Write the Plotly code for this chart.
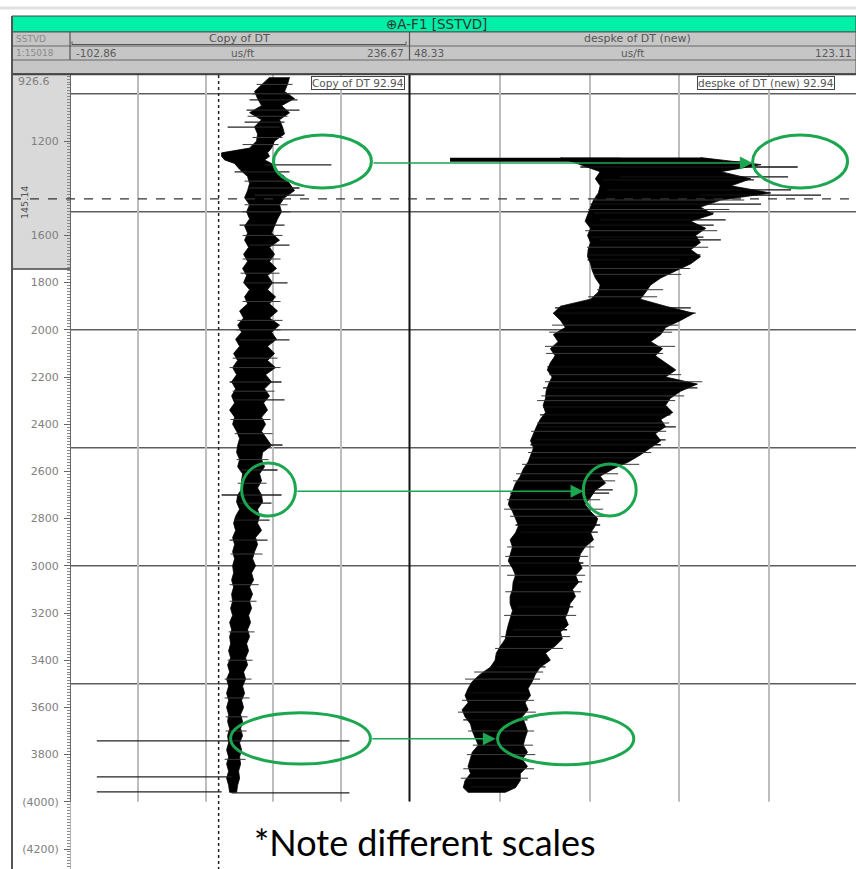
import plotly.graph_objects as go

W, H = 856, 869

# ---------------- data ----------------
DEPTH_TOP = 920.2
DEPTH_BOTTOM = 4284.7
DEPTH_TICKS = [1200, 1600, 1800, 2000, 2200, 2400, 2600, 2800, 3000, 3200, 3400, 3600, 3800, 4000, 4200]
DEPTH_TICK_TEXT = ["1200", "1600", "1800", "2000", "2200", "2400", "2600", "2800", "3000", "3200",
                   "3400", "3600", "3800", "(4000)", "(4200)"]
GRID_DEPTHS = [1000, 1500, 2000, 2500, 3000, 3500]
TRACK_END_DEPTH = 4000
CURRENT_DEPTH = 1445.14
ZONE_BOTTOM = 1742

LEFT_MIN, LEFT_MAX = -102.86, 236.67
RIGHT_MIN, RIGHT_MAX = 48.33, 123.11
LEFT_CUTOFF = 46.0

# Copy of DT (left track) envelope
L_DEPTH = [930, 960, 990, 1020, 1050, 1080, 1110, 1140, 1170, 1200, 1230, 1250, 1265, 1280, 1295,
           1320, 1350, 1380, 1410, 1440, 1470, 1500, 1530, 1560, 1590, 1620, 1650, 1680, 1710, 1740,
           1770, 1800, 1830, 1860, 1890, 1920, 1950, 1980, 2010, 2040, 2070, 2100, 2130, 2160, 2190,
           2220, 2250, 2280, 2310, 2340, 2370, 2400, 2430, 2460, 2490, 2520, 2550, 2580, 2610, 2640,
           2670, 2700, 2730, 2760, 2790, 2820, 2850, 2880, 2910, 2940, 2970, 3000, 3030, 3060, 3090,
           3120, 3150, 3180, 3210, 3240, 3270, 3300, 3330, 3360, 3390, 3420, 3450, 3480, 3510, 3540,
           3570, 3600, 3630, 3660, 3690, 3720, 3750, 3780, 3810, 3840, 3870, 3900, 3930, 3960]
L_LO = [97, 89, 82, 85, 89, 77, 89, 82, 85, 84, 77, 49, 49, 52, 62,
        67, 75, 77, 75, 72, 77, 74, 77, 72, 75, 72, 76, 71, 75, 70,
        74, 71, 77, 72, 75, 67, 71, 65, 69, 63, 67, 61, 65, 60, 64,
        59, 63, 59, 62, 57, 62, 60, 64, 67, 65, 64, 67, 65, 70, 69,
        70, 65, 64, 67, 63, 61, 63, 60, 62, 60, 62, 60, 61, 59, 61,
        59, 60, 58, 60, 57, 59, 57, 58, 56, 58, 55, 57, 54, 56, 54,
        56, 54, 56, 55, 57, 55, 56, 54, 56, 54, 56, 54, 56, 57]
L_HI = [117, 115, 112, 122, 109, 117, 107, 110, 112, 102, 99, 95, 97, 92, 99,
        102, 112, 117, 122, 112, 107, 109, 105, 102, 99, 107, 97, 102, 97, 104,
        95, 100, 95, 103, 97, 105, 97, 107, 99, 104, 95, 102, 95, 103, 93,
        99, 92, 97, 91, 95, 89, 93, 89, 94, 99, 90, 89, 92, 87, 89,
        85, 89, 90, 85, 87, 85, 89, 83, 85, 82, 80, 83, 79, 81, 77,
        80, 77, 79, 76, 78, 75, 77, 74, 76, 73, 75, 71, 73, 70, 72,
        69, 71, 68, 70, 68, 70, 67, 69, 67, 68, 66, 67, 65, 64]
# strong spikes in the left curve
L_SPK_D = [1026, 1069, 1120, 1141, 1301, 1331, 1399, 1429, 1556, 1641, 1801, 2043, 2221, 2297,
           2488, 2594, 2700, 2734, 2806, 2891, 3742, 3894, 3958, 3962]
L_SPK_LO = [77, 74, 72, 55, 92, 62, 77, 82, 67, 77, 72, 67, 57, 62,
            67, 69, 49, 67, 62, 57, -76, -76, -76, 59]
L_SPK_HI = [125, 127, 112, 107, 159, 117, 127, 132, 112, 117, 115, 117, 109, 112,
            110, 105, 109, 99, 97, 95, 177, 59, 49, 177]
# fine hairs in the left curve
L_HAIR_D = [960, 1000, 1095, 1185, 1215, 1370, 1470, 1500, 1600, 1700, 1760, 1880, 1960, 2000, 2120,
            2160, 2260, 2380, 2440, 2550, 2650, 2950, 3080, 3150, 3280, 3400, 3480, 3560, 3640, 3700, 3820]
L_HAIR_LO = [84, 80, 75, 80, 70, 72, 72, 70, 70, 70, 68, 70, 65, 64, 60,
             57, 60, 58, 62, 64, 65, 58, 57, 57, 56, 55, 52, 52, 53, 53, 52]
L_HAIR_HI = [120, 118, 115, 110, 106, 120, 115, 118, 110, 108, 107, 108, 110, 108, 105,
             108, 102, 98, 100, 96, 94, 90, 86, 84, 82, 80, 79, 77, 75, 74, 73]

# despke of DT (new) (right track) envelope
R_DEPTH = [1270, 1300, 1330, 1360, 1390, 1420, 1450, 1480, 1510, 1540, 1570, 1600, 1630, 1660, 1690,
           1720, 1750, 1780, 1810, 1840, 1870, 1900, 1930, 1960, 1990, 2020, 2050, 2080, 2110, 2140,
           2170, 2200, 2230, 2260, 2290, 2320, 2350, 2380, 2410, 2440, 2470, 2500, 2530, 2560, 2590,
           2620, 2650, 2680, 2710, 2740, 2770, 2800, 2830, 2860, 2890, 2920, 2950, 2980, 3010, 3040,
           3070, 3100, 3130, 3160, 3190, 3220, 3250, 3280, 3310, 3340, 3370, 3400, 3430, 3460, 3490,
           3520, 3550, 3580, 3610, 3640, 3670, 3700, 3730, 3760, 3790, 3820, 3850, 3880, 3910, 3940, 3960]
R_LO = [73.4, 76.7, 80.0, 79.2, 80.0, 79.7, 78.9, 78.4, 78.0, 77.5, 78.4, 77.9, 78.4, 78.0, 77.9,
        78.4, 78.7, 79.2, 80.0, 79.7, 78.4, 73.4, 72.2, 73.4, 74.2, 72.2, 73.0, 71.7, 72.5, 71.7,
        71.2, 72.0, 71.4, 71.0, 70.9, 70.5, 70.9, 70.0, 69.4, 68.9, 68.4, 68.9, 68.4, 68.0, 67.2,
        66.7, 65.9, 65.4, 65.0, 64.7, 65.4, 65.9, 66.4, 65.9, 65.0, 65.4, 65.0, 64.7, 65.4, 65.9,
        65.5, 65.4, 65.0, 65.0, 65.4, 65.0, 64.7, 64.4, 64.2, 63.4, 62.7, 62.5, 61.7, 60.0, 58.7,
        58.0, 57.5, 58.0, 57.0, 57.5, 58.4, 58.7, 59.2, 59.7, 58.7, 58.4, 58.0, 58.4, 57.5, 57.2, 58.0]
R_HI = [96.7, 106.8, 100.1, 105.1, 101.8, 108.4, 100.1, 96.7, 98.8, 95.1, 97.6, 95.9, 96.7, 95.1, 96.7,
        95.1, 92.6, 90.1, 88.4, 87.6, 86.7, 90.9, 95.6, 93.4, 90.9, 90.1, 88.4, 90.4, 89.2, 90.9,
        92.6, 90.9, 96.2, 93.4, 91.7, 90.9, 92.1, 90.1, 90.9, 89.2, 90.1, 88.4, 86.7, 84.7, 82.1,
        80.0, 80.9, 79.2, 78.4, 77.5, 78.4, 79.6, 79.2, 78.4, 78.9, 77.5, 76.7, 76.4, 77.0, 75.9,
        76.4, 75.4, 75.9, 75.0, 74.7, 74.2, 74.7, 73.4, 73.7, 72.5, 70.9, 71.7, 70.0, 69.2, 68.7,
        68.0, 68.4, 67.5, 68.0, 67.0, 67.5, 67.9, 67.5, 67.2, 67.9, 67.0, 67.9, 66.7, 66.7, 65.9, 64.2]
R_BAR_D = [1279]
R_BAR_LO = [55.0]
R_BAR_HI = [83.4]
R_SPK_D = [1288, 1310, 1352, 1365, 1407, 1429, 1467, 1505, 1534, 1556, 1607, 1619, 1683, 1704,
           1907, 1929, 2157, 2246, 2327, 2360, 2411, 2466, 2487, 2542, 2678, 2692, 2827, 2857,
           2988, 3068, 3174, 3271, 3428, 3538, 3653, 3937]
R_SPK_LO = [80.0, 76.7, 83.4, 80.5, 81.2, 96.7, 78.4, 78.9, 80.0, 78.4, 78.4, 80.0, 77.9, 77.9,
            72.5, 72.2, 71.2, 70.5, 70.5, 70.0, 70.0, 69.2, 68.4, 68.4, 66.7, 65.0, 65.9, 66.7,
            65.0, 66.2, 66.2, 65.5, 62.8, 57.8, 57.2, 58.4]
R_SPK_HI = [104.3, 112.9, 111.3, 105.6, 111.8, 116.8, 106.8, 98.9, 100.9, 98.9, 97.2, 100.1, 96.7, 93.4,
            95.1, 95.9, 91.2, 96.2, 91.2, 91.7, 92.6, 90.9, 90.1, 85.6, 82.1, 81.5, 80.0, 79.6,
            77.2, 77.0, 75.5, 74.5, 70.9, 67.9, 67.9, 65.5]
R_HAIR_D = [1450, 1490, 1580, 1650, 1740, 1765, 1830, 1860, 1980, 2010, 2070, 2100, 2190, 2220, 2280,
            2300, 2395, 2430, 2520, 2570, 2610, 2640, 2720, 2760, 2790, 2920, 2960, 3040, 3110, 3210,
            3300, 3350, 3450, 3480, 3570, 3620, 3700, 3760, 3800, 3860, 3900]
R_HAIR_LO = [79.0, 78.0, 77.5, 77.8, 78.5, 79.0, 79.5, 78.0, 72.0, 71.5, 70.8, 71.0, 71.5, 70.8, 70.2,
             69.5, 69.5, 68.5, 68.0, 67.0, 66.0, 65.5, 64.5, 64.0, 65.0, 64.5, 64.2, 64.5, 64.2, 64.0,
             63.5, 62.5, 59.0, 57.5, 57.0, 56.3, 58.0, 58.8, 57.8, 57.2, 56.8]
R_HAIR_HI = [104.0, 101.5, 99.5, 98.0, 95.0, 93.5, 90.5, 89.5, 93.0, 92.0, 92.5, 90.5, 93.5, 97.0, 94.0,
             92.5, 91.5, 91.0, 88.5, 86.5, 83.0, 82.5, 80.0, 80.5, 81.0, 79.0, 78.0, 77.5, 76.8, 76.0,
             75.0, 73.8, 70.5, 70.0, 69.0, 69.3, 69.0, 68.8, 69.2, 69.0, 68.0]

# annotations: (x0, x1, depth0, depth1) in track units
ELLIPSES_LEFT = [(101, 199, 1174, 1399), (69, 123, 2564, 2789), (58, 198, 3623, 3840)]
ELLIPSES_RIGHT = [(105.4, 121.2, 1174, 1399), (77.2, 86.0, 2569, 2789), (62.9, 85.6, 3623, 3843)]
# arrows in right-track units: (tail, head, depth)
ARROWS = [(42.0, 105.4, 1293), (29.3, 77.2, 2684), (41.8, 62.6, 3733)]

# ---------------- helpers ----------------
def px(x):
    return x / W


def py(y):
    return 1 - y / H


def segments(depths, lo, hi):
    xs, ys = [], []
    for d, a, b in zip(depths, lo, hi):
        xs += [a, b, None]
        ys += [d, d, None]
    return xs, ys


fig = go.Figure()


def add_curve(depth, lo, hi, xaxis):
    fig.add_trace(go.Scatter(x=lo + hi[::-1], y=depth + depth[::-1], xaxis=xaxis, yaxis="y",
                             mode="lines", fill="toself", fillcolor="black",
                             line=dict(color="black", width=0.8), hoverinfo="skip", showlegend=False))


def add_lines(depth, lo, hi, xaxis, color, width):
    sx, sy = segments(depth, lo, hi)
    fig.add_trace(go.Scatter(x=sx, y=sy, xaxis=xaxis, yaxis="y", mode="lines",
                             line=dict(color=color, width=width), hoverinfo="skip", showlegend=False))


add_curve(L_DEPTH, L_LO, L_HI, "x2")
add_lines(L_HAIR_D, L_HAIR_LO, L_HAIR_HI, "x2", "#3a3a3a", 1.0)
add_lines(L_SPK_D, L_SPK_LO, L_SPK_HI, "x2", "#222", 1.3)

add_curve(R_DEPTH, R_LO, R_HI, "x3")
add_lines(R_HAIR_D, R_HAIR_LO, R_HAIR_HI, "x3", "#3a3a3a", 1.0)
add_lines(R_SPK_D, R_SPK_LO, R_SPK_HI, "x3", "#111", 1.3)
add_lines(R_BAR_D, R_BAR_LO, R_BAR_HI, "x3", "black", 4)

shapes = []
annotations = []

# depth track shaded zone
shapes.append(dict(type="rect", xref="paper", yref="y", x0=px(12), x1=px(70), y0=DEPTH_TOP, y1=ZONE_BOTTOM,
                   fillcolor="#d9d9d9", line=dict(width=0), layer="below"))
shapes.append(dict(type="line", xref="paper", yref="y", x0=px(12), x1=px(70), y0=ZONE_BOTTOM, y1=ZONE_BOTTOM,
                   line=dict(color="#444", width=1.5), layer="above"))

# horizontal grid in tracks
for d in GRID_DEPTHS:
    shapes.append(dict(type="line", xref="paper", yref="y", x0=px(70), x1=1, y0=d, y1=d,
                       line=dict(color="#5e5e5e", width=1.5), layer="below"))

# track separator
shapes.append(dict(type="line", xref="paper", yref="y", x0=px(409.5), x1=px(409.5),
                   y0=DEPTH_TOP, y1=TRACK_END_DEPTH, line=dict(color="#111", width=2), layer="above"))

# white area below track end
shapes.append(dict(type="rect", xref="paper", yref="y", x0=px(70.5), x1=1, y0=TRACK_END_DEPTH,
                   y1=DEPTH_BOTTOM, fillcolor="white", line=dict(width=0), layer="above"))

# dotted cutoff line
shapes.append(dict(type="line", xref="x2", yref="y", x0=LEFT_CUTOFF, x1=LEFT_CUTOFF,
                   y0=DEPTH_TOP, y1=DEPTH_BOTTOM, line=dict(color="#222", width=1.5, dash="dot"),
                   layer="above"))

# current depth dashed line
shapes.append(dict(type="line", xref="paper", yref="y", x0=px(12), x1=1, y0=CURRENT_DEPTH, y1=CURRENT_DEPTH,
                   line=dict(color="#333", width=1.2, dash="dash"), layer="above"))

# green ellipses and arrows
GREEN = "#1ca650"
for x0, x1, d0, d1 in ELLIPSES_LEFT:
    shapes.append(dict(type="circle", xref="x2", yref="y", x0=x0, x1=x1, y0=d0, y1=d1,
                       line=dict(color=GREEN, width=3), layer="above"))
for x0, x1, d0, d1 in ELLIPSES_RIGHT:
    shapes.append(dict(type="circle", xref="x3", yref="y", x0=x0, x1=x1, y0=d0, y1=d1,
                       line=dict(color=GREEN, width=3), layer="above"))
for tail, head, d in ARROWS:
    annotations.append(dict(xref="x3", yref="y", axref="x3", ayref="y", x=head, y=d, ax=tail, ay=d,
                            text="", showarrow=True, arrowhead=2, arrowsize=1.6, arrowwidth=1.6,
                            arrowcolor=GREEN, standoff=0))

# header
shapes.append(dict(type="line", xref="paper", yref="paper", x0=0, x1=1, y0=py(8), y1=py(8),
                   line=dict(color="#e2e2e2", width=3)))
shapes.append(dict(type="rect", xref="paper", yref="paper", x0=px(12), x1=1, y0=py(32), y1=py(16),
                   fillcolor="#00f0a8", line=dict(color="#444", width=1)))
shapes.append(dict(type="rect", xref="paper", yref="paper", x0=px(12), x1=1, y0=py(73.5), y1=py(32),
                   fillcolor="#c6c6c6", line=dict(color="#555", width=1)))
for yy in [46, 60]:
    shapes.append(dict(type="line", xref="paper", yref="paper", x0=px(12), x1=1, y0=py(yy), y1=py(yy),
                       line=dict(color="#666", width=1)))
for xx in [70, 409.5]:
    shapes.append(dict(type="line", xref="paper", yref="paper", x0=px(xx), x1=px(xx), y0=py(32), y1=py(60),
                       line=dict(color="#555", width=1.2)))
# scale bar under "Copy of DT"
shapes.append(dict(type="line", xref="paper", yref="paper", x0=px(72), x1=px(406), y0=py(44.5), y1=py(44.5),
                   line=dict(color="#555", width=1)))
for xx in [72, 406]:
    shapes.append(dict(type="line", xref="paper", yref="paper", x0=px(xx), x1=px(xx), y0=py(41.5), y1=py(44.5),
                       line=dict(color="#555", width=1)))
# top of plot area and outer left border
shapes.append(dict(type="line", xref="paper", yref="paper", x0=px(12), x1=1, y0=py(74.5), y1=py(74.5),
                   line=dict(color="#444", width=1.5)))
shapes.append(dict(type="line", xref="paper", yref="paper", x0=px(12), x1=px(12), y0=py(16), y1=0,
                   line=dict(color="#555", width=2)))

FONT = "DejaVu Sans, Arial"


def txt(x, y, s, size=10, color="#5a5a5a", xanchor="center", **kw):
    d = dict(xref="paper", yref="paper", x=px(x), y=py(y), text=s, showarrow=False,
             xanchor=xanchor, yanchor="middle", font=dict(size=size, color=color, family=FONT))
    d.update(kw)
    annotations.append(d)


txt(436, 24, "⊕A-F1 [SSTVD]", size=13.5, color="#333")
txt(14, 39, "SSTVD", size=9, color="#8a8a8a", xanchor="left")
txt(240, 38.5, "Copy of DT", size=11, color="#555")
txt(637, 38.5, "despke of DT (new)", size=11, color="#555")
txt(14, 53, "1:15018", size=9, color="#8a8a8a", xanchor="left")
txt(74, 53, "-102.86", size=10.5, xanchor="left")
txt(242, 53, "us/ft", size=10.5)
txt(406, 53, "236.67", size=10.5, xanchor="right")
txt(412, 53, "48.33", size=10.5, xanchor="left")
txt(632, 53, "us/ft", size=10.5)
txt(854, 53, "123.11", size=10.5, xanchor="right")

# depth track labels
txt(16, 81, "926.6", size=11, color="#808080", xanchor="left")
txt(24, 203, "145.14", size=9.5, color="#555", textangle=-90)

# curve label boxes
annotations.append(dict(xref="paper", yref="paper", x=px(405), y=py(76), text="Copy of DT 92.94",
                        showarrow=False, xanchor="right", yanchor="top", bgcolor="white",
                        bordercolor="#444", borderwidth=1, borderpad=0,
                        font=dict(size=10.5, color="#555", family=FONT)))
annotations.append(dict(xref="paper", yref="paper", x=px(697), y=py(76), text="despke of DT (new) 92.94",
                        showarrow=False, xanchor="left", yanchor="top", bgcolor="white",
                        bordercolor="#444", borderwidth=1, borderpad=0,
                        font=dict(size=10.5, color="#555", family=FONT)))

# note
annotations.append(dict(xref="paper", yref="paper", x=px(425), y=py(842), text="*Note different scales",
                        showarrow=False, xanchor="center", yanchor="middle",
                        font=dict(size=36, color="black", family="Lato, Open Sans, sans-serif")))

L_GRID = [LEFT_MIN + i * (LEFT_MAX - LEFT_MIN) / 5 for i in range(1, 5)]
R_GRID = [RIGHT_MIN + i * (RIGHT_MAX - RIGHT_MIN) / 5 for i in range(1, 5)]
RIGHT_VISIBLE_MAX = RIGHT_MIN + (RIGHT_MAX - RIGHT_MIN) * 446 / 449

fig.update_layout(
    width=W, height=H, margin=dict(l=0, r=0, t=0, b=0),
    paper_bgcolor="white", plot_bgcolor="rgba(0,0,0,0)", showlegend=False,
    xaxis=dict(domain=[px(12), px(70)], range=[0, 1], visible=False, anchor="y"),
    xaxis2=dict(domain=[px(70), px(409)], range=[LEFT_MIN, LEFT_MAX], anchor="y",
                tickmode="array", tickvals=L_GRID, showgrid=True, gridcolor="#bdbdbd", gridwidth=1.5,
                showticklabels=False, ticks="", zeroline=False, showline=False),
    xaxis3=dict(domain=[px(410), 1], range=[RIGHT_MIN, RIGHT_VISIBLE_MAX], anchor="y",
                tickmode="array", tickvals=R_GRID, showgrid=True, gridcolor="#bdbdbd", gridwidth=1.5,
                showticklabels=False, ticks="", zeroline=False, showline=False),
    yaxis=dict(domain=[0, py(75)], range=[DEPTH_BOTTOM, DEPTH_TOP], anchor="free", position=px(70),
               side="left", tickmode="array", tickvals=DEPTH_TICKS, ticktext=DEPTH_TICK_TEXT,
               ticks="outside", ticklen=6, tickcolor="#666", tickwidth=1,
               tickfont=dict(size=11, color="#808080", family=FONT), ticklabelstandoff=3,
               showgrid=False, zeroline=False, showline=True, linecolor="#666", linewidth=1,
               minor=dict(tickmode="linear", tick0=0, dtick=12.5, ticklen=3, tickcolor="#888",
                          ticks="outside", showgrid=False)),
    shapes=shapes, annotations=annotations,
)

fig.write_html("out.html", config={"displayModeBar": False},
               post_script=["document.body.style.margin='0';document.body.style.overflow='hidden';"])
